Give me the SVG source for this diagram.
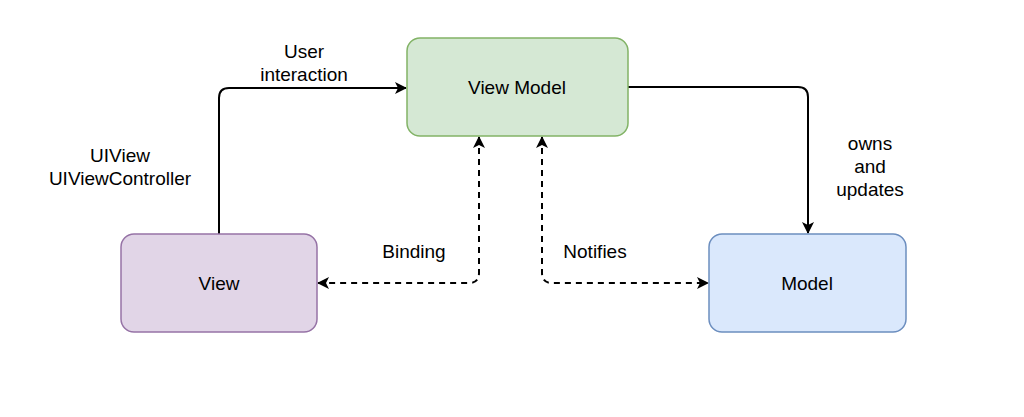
<svg xmlns="http://www.w3.org/2000/svg" width="1024" height="417" viewBox="0 0 1024 417">
<style>
.t{font-family:"Liberation Sans",Arial,sans-serif;font-size:19px;fill:#000;text-anchor:middle}
.c{fill:none;stroke:#000;stroke-width:2}
.d{stroke-dasharray:6 5}
</style>
<defs>
<marker id="a" viewBox="0 0 12 12" refX="11" refY="6" markerWidth="12" markerHeight="12" markerUnits="userSpaceOnUse" orient="auto-start-reverse">
<path d="M0,0 L12,6 L0,12 L3,6 Z" fill="#000"/>
</marker>
</defs>
<rect width="1024" height="417" fill="#fff"/>
<g id="connectors">
<path class="c" d="M219,234 V98 Q219,88 229,88 H406" marker-end="url(#a)"/>
<path class="c" d="M628,87 H798 Q808,87 808,97 V233" marker-end="url(#a)"/>
<path class="c d" d="M479,137 V273 Q479,283 469,283 H318" marker-start="url(#a)" marker-end="url(#a)"/>
<path class="c d" d="M542,137 V273 Q542,283 552,283 H708" marker-start="url(#a)" marker-end="url(#a)"/>
</g>
<g id="label-user"><text class="t" x="304" y="58">User</text><text class="t" x="304" y="81">interaction</text></g>
<g id="label-uiview"><text class="t" x="120" y="162">UIView</text><text class="t" x="120" y="185">UIViewController</text></g>
<g id="label-binding"><text class="t" x="414" y="258">Binding</text></g>
<g id="label-notifies"><text class="t" x="595" y="258">Notifies</text></g>
<g id="label-owns"><text class="t" x="870" y="150">owns</text><text class="t" x="870" y="173">and</text><text class="t" x="870" y="196">updates</text></g>
<g id="viewmodel">
<rect x="407" y="38" width="221" height="98" rx="13" fill="#d5e8d4" stroke="#82b366" stroke-width="1.5"/>
<text class="t" x="517" y="94">View Model</text>
</g>
<g id="view">
<rect x="121" y="234" width="196" height="98" rx="13" fill="#e1d5e7" stroke="#9673a6" stroke-width="1.5"/>
<text class="t" x="219" y="290">View</text>
</g>
<g id="model">
<rect x="709" y="234" width="197" height="98" rx="13" fill="#dae8fc" stroke="#6c8ebf" stroke-width="1.5"/>
<text class="t" x="807" y="290">Model</text>
</g>
</svg>
